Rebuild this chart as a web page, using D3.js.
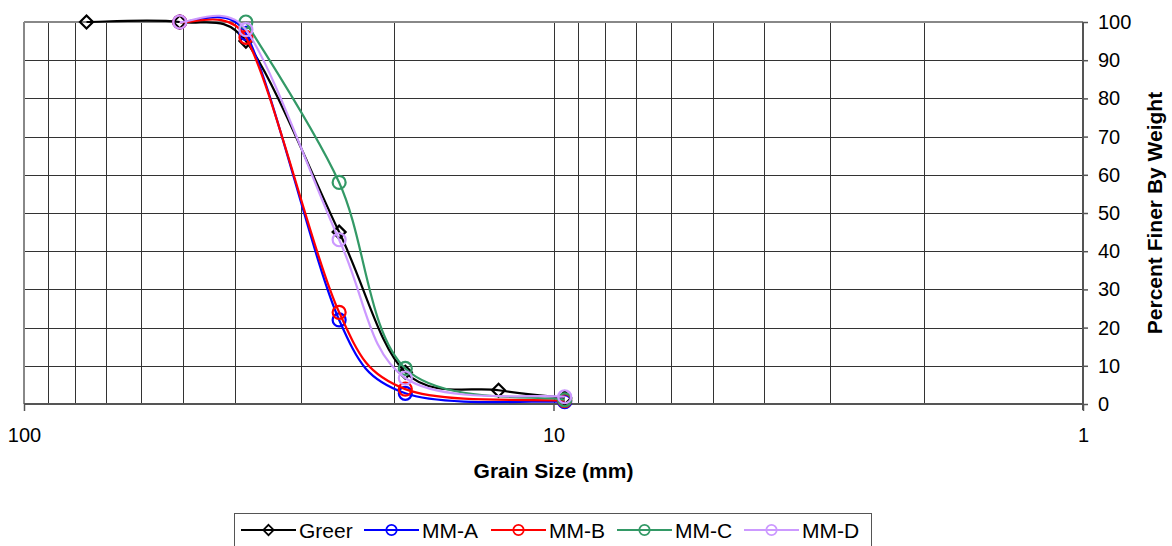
<!DOCTYPE html>
<html>
<head>
<meta charset="utf-8">
<script src="https://cdn.jsdelivr.net/npm/d3@7"></script>
<style>
  body { margin: 0; background: #fff; }
  text { font-family: "Liberation Sans", Arial, sans-serif; }
</style>
</head>
<body>
<svg id="chart" width="1172" height="546"></svg>
<script>
// sieve sizes in mm
const greerSizes = [76.2, 50.8, 38.1, 25.4, 19.05, 12.7, 9.525];
const mmSizes = [50.8, 38.1, 25.4, 19.05, 9.525];
const mmCSizes = [38.1, 25.4, 19.05, 9.525];

const greer = [100, 100, 95, 45, 8.3, 3.6, 1.6];
const mmA = [100, 97, 22, 2.8, 0.6];
const mmB = [100, 96, 24, 3.9, 0.9];
const mmC = [100, 58, 9.3, 1.1];
const mmD = [100, 98, 43, 6.8, 1.9];

const seriesNames = ['Greer', 'MM-A', 'MM-B', 'MM-C', 'MM-D'];
const seriesColors = ['#000000', '#0000ff', '#ff0000', '#339966', '#cc99ff'];

const xTickLabels = [100, 10, 1];
const yTicks = d3.range(0, 101, 10);

const series = [
	{ name: seriesNames[0], color: seriesColors[0], sizes: greerSizes, values: greer, marker: 'diamond' },
	{ name: seriesNames[1], color: seriesColors[1], sizes: mmSizes, values: mmA, marker: 'circle' },
	{ name: seriesNames[2], color: seriesColors[2], sizes: mmSizes, values: mmB, marker: 'circle' },
	{ name: seriesNames[3], color: seriesColors[3], sizes: mmCSizes, values: mmC, marker: 'circle' },
	{ name: seriesNames[4], color: seriesColors[4], sizes: mmSizes, values: mmD, marker: 'circle' }
];

const svg = d3.select('#chart');
const pLeft = 24, pRight = 1083, pTop = 22, pBottom = 404;

const x = d3.scaleLog().domain([100, 1]).range([pLeft, pRight]);
const y = d3.scaleLinear().domain([0, 100]).range([pBottom, pTop]);

// grid
const grid = svg.append('g');
grid.selectAll('line.v')
	.data(x.ticks())
	.enter()
	.append('line')
		.attr('x1', d => Math.round(x(d)) + 0.5)
		.attr('x2', d => Math.round(x(d)) + 0.5)
		.attr('y1', pTop)
		.attr('y2', pBottom)
		.attr('stroke', '#333')
		.attr('stroke-width', 1);
grid.selectAll('line.h')
	.data(yTicks)
	.enter()
	.append('line')
		.attr('x1', pLeft)
		.attr('x2', pRight)
		.attr('y1', d => Math.round(y(d)) + 0.5)
		.attr('y2', d => Math.round(y(d)) + 0.5)
		.attr('stroke', '#333')
		.attr('stroke-width', 1);

// plot border (left / top)
svg.append('line').attr('x1', pLeft).attr('x2', pLeft).attr('y1', pTop).attr('y2', pBottom)
	.attr('stroke', '#888').attr('stroke-width', 2);
svg.append('line').attr('x1', pLeft).attr('x2', pRight).attr('y1', pTop).attr('y2', pTop)
	.attr('stroke', '#888').attr('stroke-width', 2);

// axes
const xAxis = svg.append('g')
	.attr('transform', `translate(0,${pBottom})`)
	.call(d3.axisBottom(x).tickValues(xTickLabels).tickFormat(d3.format('d')).tickSize(7).tickPadding(17));
const yAxis = svg.append('g')
	.attr('transform', `translate(${pRight},0)`)
	.call(d3.axisRight(y).tickValues(yTicks).tickSize(5).tickPadding(10));

[xAxis, yAxis].forEach(a => {
	a.select('.domain').attr('stroke', '#555').attr('stroke-width', 2);
	a.selectAll('.tick line').attr('stroke', '#555').attr('stroke-width', 1.5);
	a.selectAll('.tick text').attr('font-size', 20).attr('fill', '#000')
		.attr('font-family', '"Liberation Sans", Arial, sans-serif');
});
xAxis.select('.domain').attr('d', `M${pLeft},0H${pRight}`);
yAxis.select('.domain').attr('d', `M0,${pTop}V${pBottom + 6}`);

// axis titles
svg.append('text')
	.attr('x', x(10))
	.attr('y', 478)
	.attr('text-anchor', 'middle')
	.attr('font-size', 21)
	.attr('font-weight', 'bold')
	.text('Grain Size (mm)');
svg.append('text')
	.attr('transform', `translate(1162,${(pTop + pBottom) / 2}) rotate(-90)`)
	.attr('text-anchor', 'middle')
	.attr('font-size', 21)
	.attr('font-weight', 'bold')
	.text('Percent Finer By Weight');

// spreadsheet-style smoothing: bezier with 1/6 tangents, capped at half the segment
function smoothPath(pts) {
	const p = d3.path();
	const dist = (a, b) => Math.hypot(b[0] - a[0], b[1] - a[1]);
	p.moveTo(pts[0][0], pts[0][1]);
	for (let i = 0; i < pts.length - 1; i++) {
		const p0 = pts[Math.max(i - 1, 0)], p1 = pts[i], p2 = pts[i + 1], p3 = pts[Math.min(i + 2, pts.length - 1)];
		const seg = dist(p1, p2);
		const d02 = dist(p0, p2), d13 = dist(p1, p3);
		const f1 = d02 > 0 ? Math.min(1 / 6, 0.5 * seg / d02) : 0;
		const f2 = d13 > 0 ? Math.min(1 / 6, 0.5 * seg / d13) : 0;
		p.bezierCurveTo(
			p1[0] + f1 * (p2[0] - p0[0]), p1[1] + f1 * (p2[1] - p0[1]),
			p2[0] - f2 * (p3[0] - p1[0]), p2[1] - f2 * (p3[1] - p1[1]),
			p2[0], p2[1]);
	}
	return p.toString();
}

function drawMarker(g, type, color) {
	if (type === 'diamond') {
		g.append('path')
			.attr('d', 'M0,-6.5L6.5,0L0,6.5L-6.5,0Z')
			.attr('fill', 'none')
			.attr('stroke', color)
			.attr('stroke-width', 2.2);
	} else {
		g.append('circle')
			.attr('r', 6.5)
			.attr('fill', 'none')
			.attr('stroke', color)
			.attr('stroke-width', 2.2);
	}
}

series.forEach(s => {
	const pts = s.sizes.map((d, i) => [x(d), y(s.values[i])]);
	const g = svg.append('g');
	g.append('path')
		.attr('d', smoothPath(pts))
		.attr('fill', 'none')
		.attr('stroke', s.color)
		.attr('stroke-width', 2.2);
	g.selectAll('g.mark')
		.data(pts)
		.enter()
		.append('g')
			.attr('transform', d => `translate(${d[0]},${d[1]})`)
			.each(function () { drawMarker(d3.select(this), s.marker, s.color); });
});

// legend
const legend = svg.append('g');
legend.append('rect')
	.attr('x', 234.5).attr('y', 513.5)
	.attr('width', 637).attr('height', 50)
	.attr('fill', '#fff').attr('stroke', '#555').attr('stroke-width', 1);
const legendX = [241, 364, 491, 617, 744];
const legendLineW = 55;
series.forEach((s, i) => {
	const gy = 530;
	const g = legend.append('g');
	g.append('line')
		.attr('x1', legendX[i]).attr('x2', legendX[i] + legendLineW)
		.attr('y1', gy).attr('y2', gy)
		.attr('stroke', s.color).attr('stroke-width', 2.2);
	const m = g.append('g').attr('transform', `translate(${legendX[i] + legendLineW / 2},${gy}) scale(0.8)`);
	drawMarker(m, s.marker, s.color);
	g.append('text')
		.attr('x', legendX[i] + legendLineW + 3)
		.attr('y', 538)
		.attr('font-size', 21)
		.text(s.name);
});
</script>
</body>
</html>
